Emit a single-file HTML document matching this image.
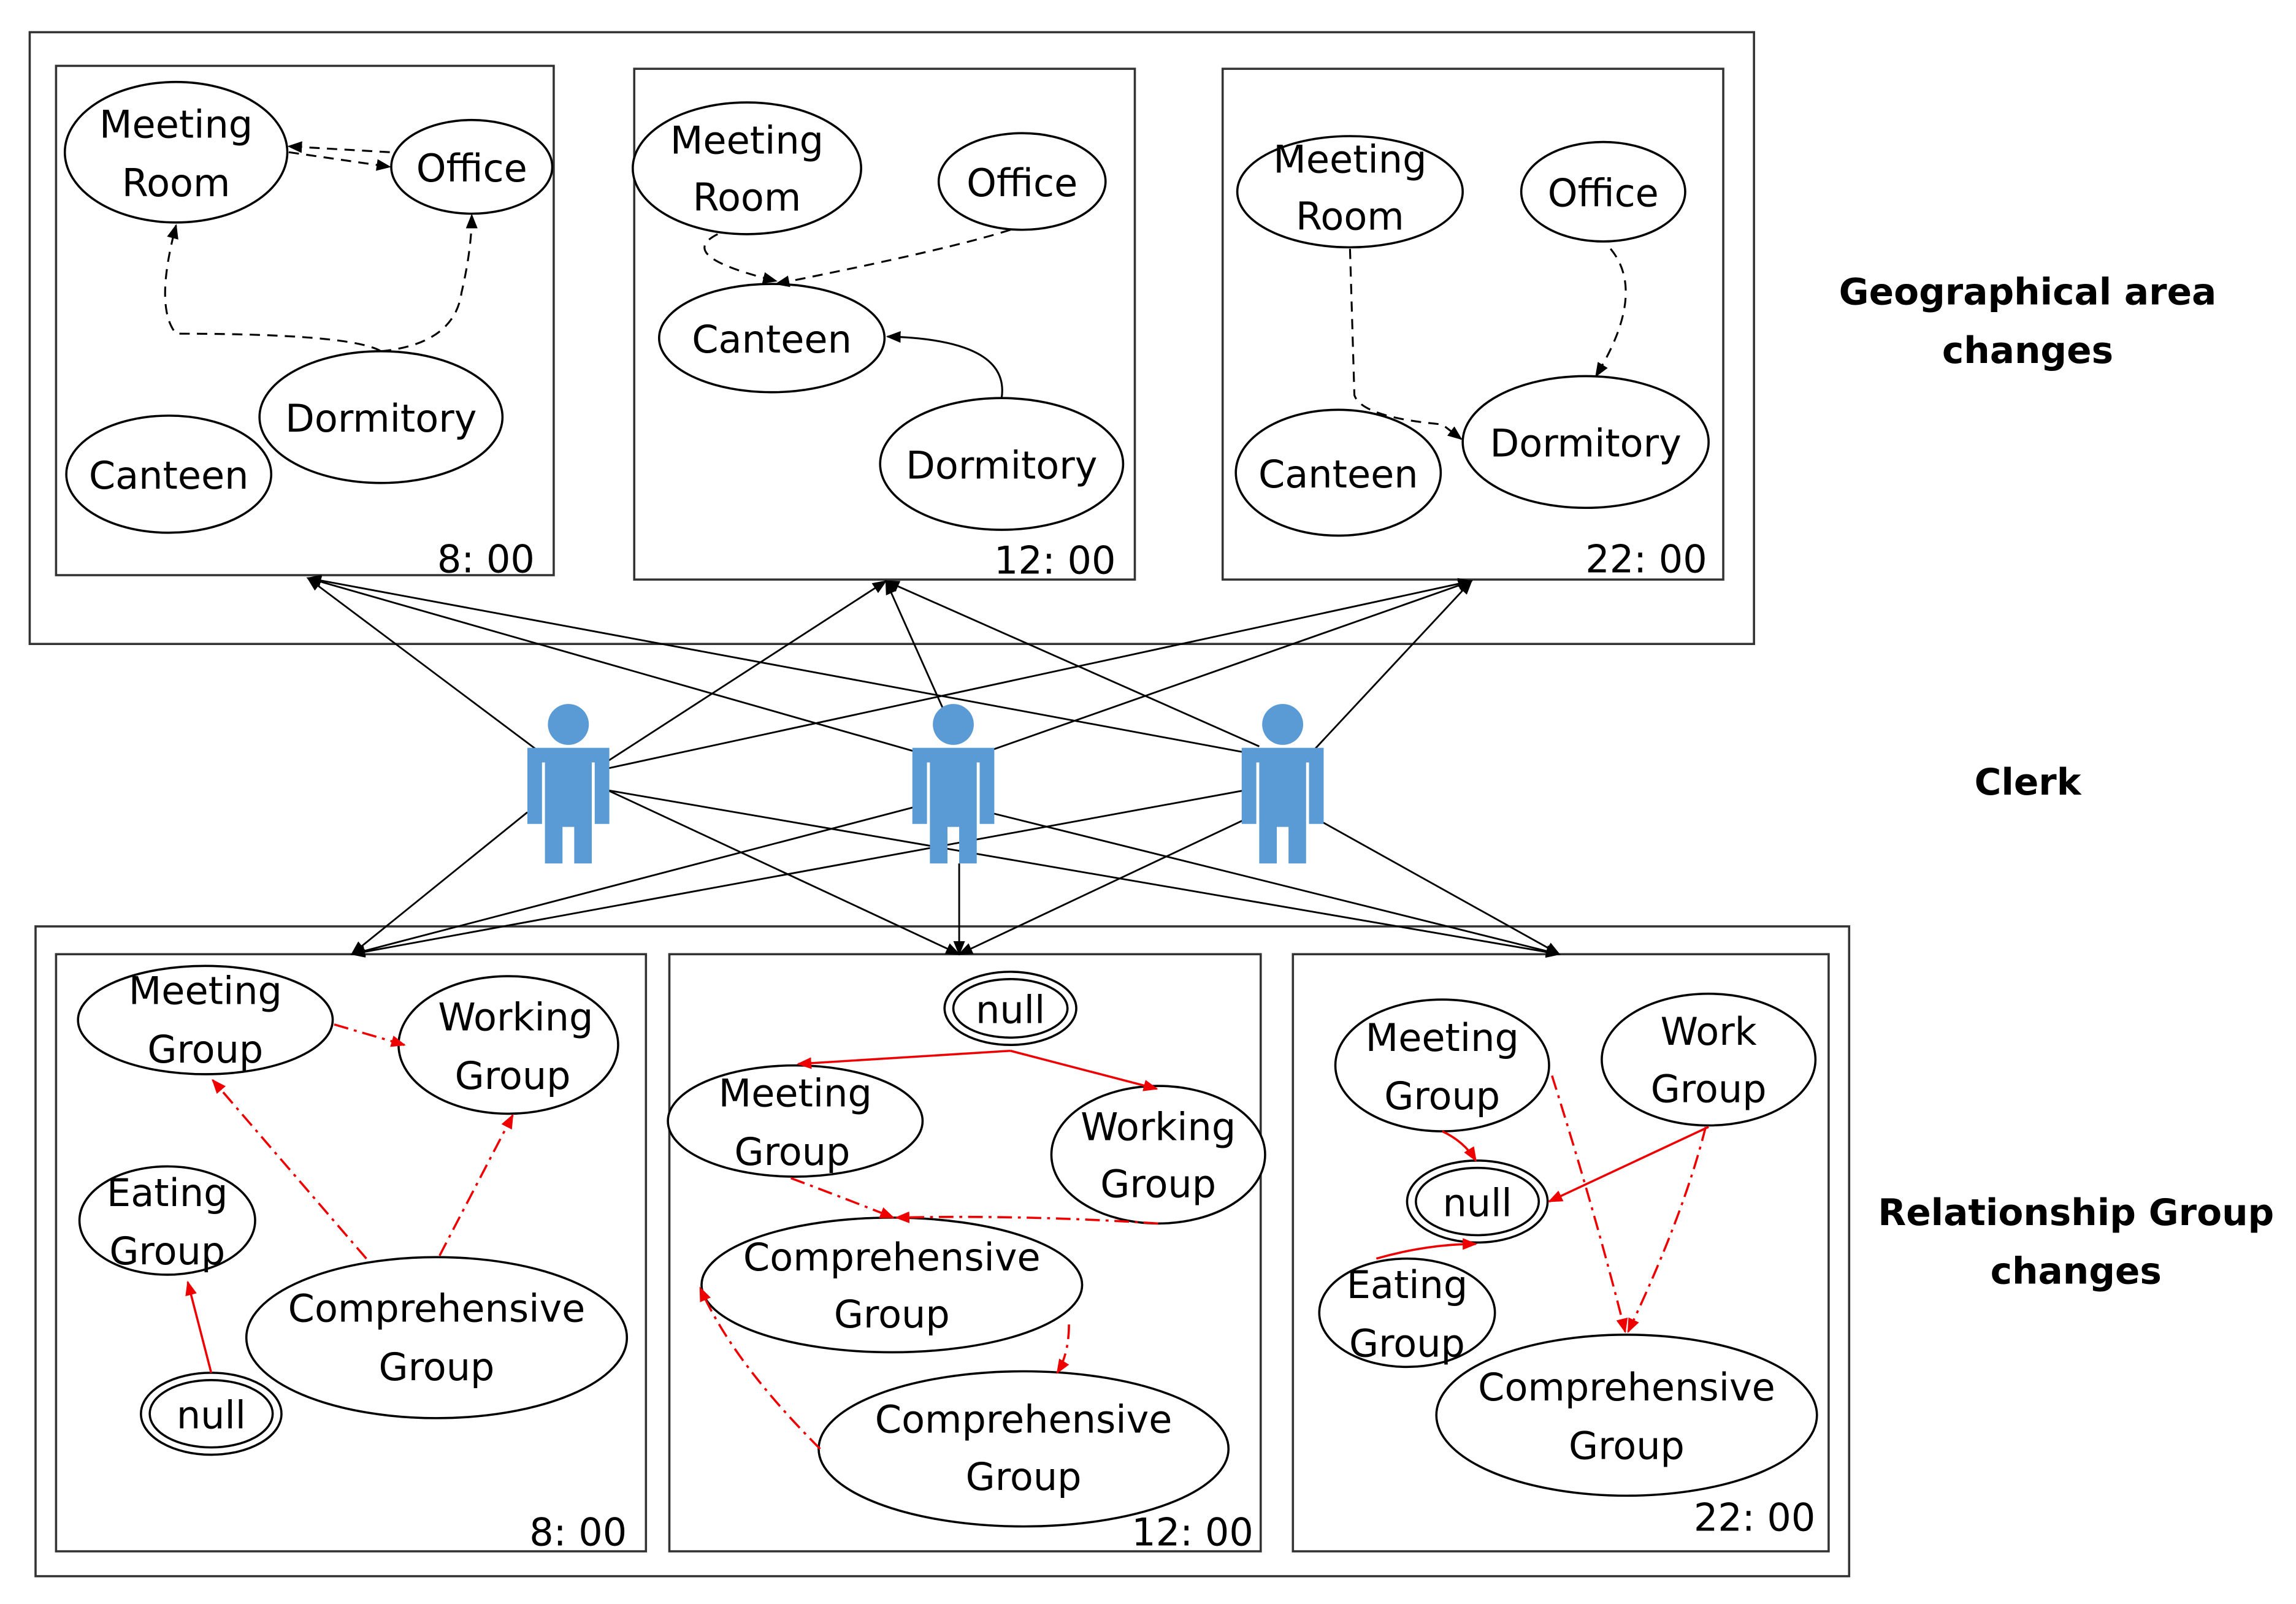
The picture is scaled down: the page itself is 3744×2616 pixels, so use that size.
<!DOCTYPE html>
<html><head><meta charset="utf-8"><style>
html,body{margin:0;padding:0;background:#fff;}
svg{display:block;}
text{font-family:"DejaVu Sans","Liberation Sans",sans-serif;}
</style></head><body>
<svg width="3744" height="2616" viewBox="0 0 1568 1096" xmlns="http://www.w3.org/2000/svg">
<defs>
<marker id="ab" markerWidth="10" markerHeight="8" refX="9" refY="4" orient="auto" markerUnits="userSpaceOnUse"><path d="M0,0 L10,4 L0,8 z" fill="#000"/></marker>
<marker id="ar" markerWidth="10" markerHeight="8" refX="9" refY="4" orient="auto" markerUnits="userSpaceOnUse"><path d="M0,0 L10,4 L0,8 z" fill="#e00"/></marker>
<g id="person" fill="#5b9bd5">
<circle cx="0" cy="-30" r="14"/>
<path d="M-28,-14 H28 V38 H18 V-4 H16 V65 H4 V40 H-4 V65 H-16 V-4 H-18 V38 H-28 Z"/>
</g>
</defs>
<rect width="1568" height="1096" fill="#fff"/>
<g fill="none" stroke="#333" stroke-width="1.5">
<rect x="20" y="22" width="1178" height="418"/>
<rect x="38" y="45" width="340" height="348"/>
<rect x="433" y="47" width="342" height="349"/>
<rect x="835" y="47" width="342" height="349"/>
<rect x="24" y="633" width="1239" height="444"/>
<rect x="38" y="652" width="403" height="408"/>
<rect x="457" y="652" width="404" height="408"/>
<rect x="883" y="652" width="366" height="408"/>
</g>
<g fill="#fff" stroke="#000" stroke-width="1.5">
<ellipse cx="120" cy="104" rx="76" ry="48"/><ellipse cx="322" cy="114" rx="55" ry="32"/>
<ellipse cx="260" cy="285" rx="83" ry="45"/><ellipse cx="115" cy="324" rx="70" ry="40"/>
<ellipse cx="510" cy="115" rx="78" ry="45"/><ellipse cx="698" cy="124" rx="57" ry="33"/>
<ellipse cx="527" cy="231" rx="77" ry="37"/><ellipse cx="684" cy="317" rx="83" ry="45"/>
<ellipse cx="922" cy="131" rx="77" ry="38"/><ellipse cx="1095" cy="131" rx="56" ry="34"/>
<ellipse cx="1083" cy="302" rx="84" ry="45"/><ellipse cx="914" cy="323" rx="70" ry="43"/>
<ellipse cx="140" cy="697" rx="87" ry="37"/><ellipse cx="347" cy="714" rx="75" ry="47"/>
<ellipse cx="114" cy="834" rx="60" ry="37"/><ellipse cx="298" cy="914" rx="130" ry="55"/>
<ellipse cx="144" cy="966" rx="48" ry="28"/><ellipse cx="144" cy="966" rx="42" ry="23"/>
<ellipse cx="690" cy="689" rx="45" ry="25"/><ellipse cx="690" cy="689" rx="39" ry="20"/>
<ellipse cx="543" cy="766" rx="87" ry="38"/><ellipse cx="791" cy="789" rx="73" ry="47"/>
<ellipse cx="609" cy="878" rx="130" ry="46"/><ellipse cx="699" cy="990" rx="140" ry="53"/>
<ellipse cx="985" cy="728" rx="73" ry="45"/><ellipse cx="1167" cy="724" rx="73" ry="45"/>
<ellipse cx="1009" cy="821" rx="48" ry="28"/><ellipse cx="1009" cy="821" rx="42" ry="23"/>
<ellipse cx="961" cy="897" rx="60" ry="37"/><ellipse cx="1111" cy="967" rx="130" ry="55"/>
</g>
<g fill="none" stroke="#000" stroke-width="1.3" stroke-dasharray="7,5">
<path d="M197,104 L266,114" marker-end="url(#ab)"/><path d="M266,104 L197,100" marker-end="url(#ab)"/>
<path d="M260,240 Q240,228 120,228 Q105,210 120,154" marker-end="url(#ab)"/>
<path d="M260,240 Q310,235 315,200 Q322,170 322,147" marker-end="url(#ab)"/>
<path d="M490,160 Q460,175 530,192" marker-end="url(#ab)"/>
<path d="M690,157 Q650,170 530,194" marker-end="url(#ab)"/>
<path d="M922,170 L925,270 Q930,285 985,290 L998,300" marker-end="url(#ab)"/>
<path d="M1100,170 Q1125,200 1090,257" marker-end="url(#ab)"/>
</g>
<path d="M684,272 Q690,232 606,230" fill="none" stroke="#000" stroke-width="1.3" marker-end="url(#ab)"/>
<g fill="none" stroke="#e00" stroke-width="1.5" stroke-dasharray="10,4,2,4">
<path d="M228,700 L276,714" marker-end="url(#ar)"/>
<path d="M250,860 L145,738" marker-end="url(#ar)"/>
<path d="M300,858 L350,762" marker-end="url(#ar)"/>
<path d="M540,805 Q580,820 610,832" marker-end="url(#ar)"/>
<path d="M791,836 Q700,830 612,832" marker-end="url(#ar)"/>
<path d="M730,905 Q730,925 722,938" marker-end="url(#ar)"/>
<path d="M560,990 Q500,930 478,880" marker-end="url(#ar)"/>
<path d="M1060,735 Q1090,830 1110,910" marker-end="url(#ar)"/>
<path d="M1165,770 Q1150,830 1112,910" marker-end="url(#ar)"/>
</g>
<g fill="none" stroke="#e00" stroke-width="1.5">
<path d="M144,938 L128,876" marker-end="url(#ar)"/>
<path d="M690,718 L545,727" marker-end="url(#ar)"/>
<path d="M690,718 L790,744" marker-end="url(#ar)"/>
<path d="M985,773 Q1000,780 1008,793" marker-end="url(#ar)"/>
<path d="M1167,770 L1058,821" marker-end="url(#ar)"/>
<path d="M940,860 Q975,850 1008,850" marker-end="url(#ar)"/>
</g>
<g stroke="#000" stroke-width="1.2" fill="none">
<g marker-end="url(#ab)">
<path d="M370,515 L210,395"/><path d="M415,520 L605,397"/><path d="M415,525 L1005,397"/>
<path d="M630,515 L210,395"/><path d="M651,500 L605,397"/><path d="M670,515 L1005,397"/>
<path d="M855,515 L210,395"/><path d="M860,510 L605,397"/><path d="M895,515 L1005,397"/>
<path d="M360,555 L240,652"/><path d="M415,540 L655,652"/><path d="M415,540 L1065,652"/>
<path d="M630,550 L240,652"/><path d="M655,590 L655,652"/><path d="M675,555 L1065,652"/>
<path d="M850,540 L240,652"/><path d="M850,560 L655,652"/><path d="M900,560 L1065,652"/>
</g></g>
<use href="#person" x="388" y="525"/><use href="#person" x="651" y="525"/><use href="#person" x="876" y="525"/>
<g font-size="26" fill="#000" text-anchor="middle">
<text x="120" y="94">Meeting</text><text x="120" y="134">Room</text>
<text x="322" y="124">Office</text><text x="260" y="295">Dormitory</text><text x="115" y="334">Canteen</text>
<text x="510" y="105">Meeting</text><text x="510" y="144">Room</text>
<text x="698" y="134">Office</text><text x="527" y="241">Canteen</text><text x="684" y="327">Dormitory</text>
<text x="922" y="118">Meeting</text><text x="922" y="157">Room</text>
<text x="1095" y="141">Office</text><text x="1083" y="312">Dormitory</text><text x="914" y="333">Canteen</text>
<text x="140" y="686">Meeting</text><text x="140" y="726">Group</text>
<text x="352" y="704">Working</text><text x="350" y="744">Group</text>
<text x="114" y="824">Eating</text><text x="114" y="864">Group</text>
<text x="298" y="903">Comprehensive</text><text x="298" y="943">Group</text>
<text x="144" y="976">null</text>
<text x="690" y="699">null</text>
<text x="543" y="756">Meeting</text><text x="541" y="796">Group</text>
<text x="791" y="779">Working</text><text x="791" y="818">Group</text>
<text x="609" y="868">Comprehensive</text><text x="609" y="907">Group</text>
<text x="699" y="979">Comprehensive</text><text x="699" y="1018">Group</text>
<text x="985" y="718">Meeting</text><text x="985" y="758">Group</text>
<text x="1167" y="714">Work</text><text x="1167" y="753">Group</text>
<text x="1009" y="831">null</text>
<text x="961" y="887">Eating</text><text x="961" y="927">Group</text>
<text x="1111" y="957">Comprehensive</text><text x="1111" y="997">Group</text>
</g>
<g font-size="26" fill="#000" text-anchor="end" font-family="Liberation Mono,monospace">
<text x="365" y="391">8: 00</text><text x="762" y="392">12: 00</text><text x="1166" y="391">22: 00</text>
<text x="428" y="1056">8: 00</text><text x="856" y="1056">12: 00</text><text x="1240" y="1046">22: 00</text>
</g>
<g font-size="25" font-weight="bold" fill="#000" text-anchor="middle">
<text x="1385" y="208">Geographical area</text><text x="1385" y="248">changes</text>
<text x="1385" y="543">Clerk</text>
<text x="1418" y="837">Relationship Group</text><text x="1418" y="877">changes</text>
</g>
</svg>
</body></html>
